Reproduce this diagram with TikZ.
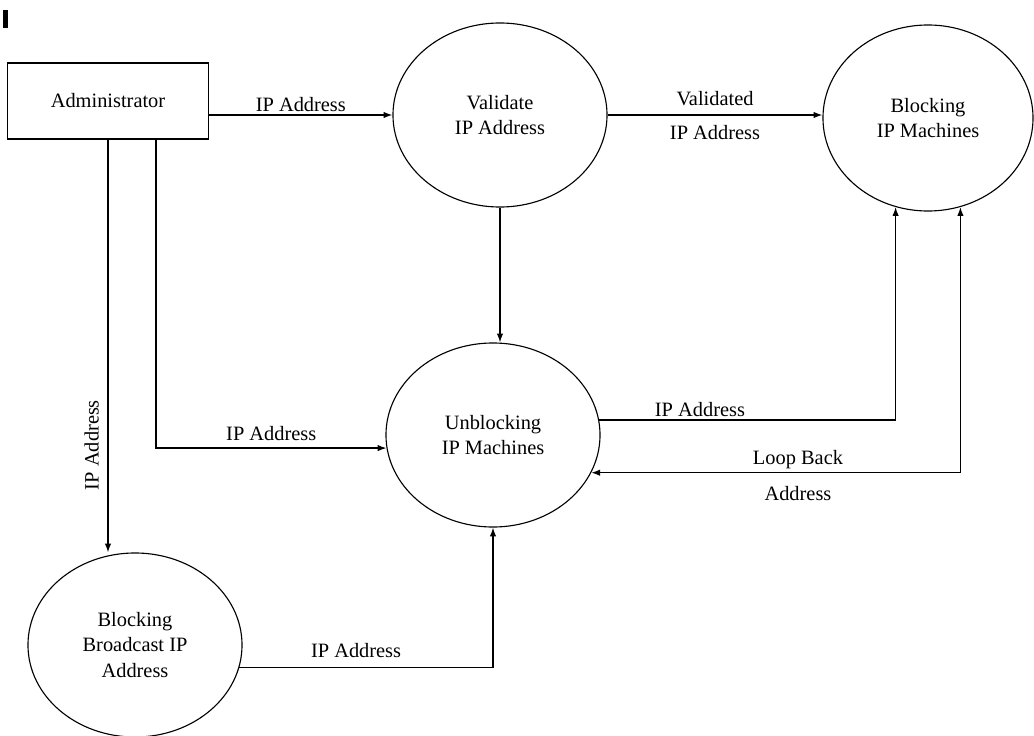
\documentclass[tikz,border=0pt]{standalone}
\usepackage{fontspec}
\setmainfont{Liberation Serif}
\usetikzlibrary{positioning,arrows.meta,shapes.geometric}
\tikzset{
    ent/.style={rectangle,draw,line width=0.9pt,minimum width=5.03cm,minimum height=1.9cm,inner sep=0pt},
    proc/.style={ellipse,draw,line width=0.8pt,minimum width=5.35cm,minimum height=4.6cm,inner sep=0pt,align=center},
    flow/.style={-{Latex[length=2.2mm,width=1.6mm]},line width=0.9pt},
    both/.style={{Latex[length=2.2mm,width=1.6mm]}-{Latex[length=2.2mm,width=1.6mm]},line width=0.9pt},
    lbl/.style={inner sep=2pt},
}

\begin{document}
\begin{tikzpicture}[x=0.025cm,y=-0.025cm,every node/.style={font=\fontsize{14.5}{18}\selectfont}]
\useasboundingbox (0,0) rectangle (1034,736);
\fill (3,10) rectangle (8,28);

\node[ent]  (adm) at (108,101) {Administrator};
\node[proc] (val) at (500,115) {Validate\\IP Address};
\node[proc,minimum width=5.25cm,minimum height=4.65cm] (blk) at (928,118) {Blocking\\IP Machines};
\node[proc] (unb) at (493,435) {Unblocking\\IP Machines};
\node[proc] (bbc) at (135,645) {Blocking\\Broadcast IP\\Address};

\draw[flow] (adm.east |- val.west) -- node[lbl,above] (lAdmVal) {IP Address} (val.west);
\draw[flow] (val.east) -- node[lbl,above,inner sep=6pt] (lValBlk1) {Validated}
    node[lbl,below,inner sep=7pt] (lValBlk2) {IP Address} (val.east -| blk.west);
\draw[flow] (val.south) -- (val.south |- unb.north);
\draw[flow] (adm.south) -- node[lbl,pos=0.74,rotate=90,anchor=south,inner sep=6pt] (lAdmBbc) {IP Address} (adm.south |- bbc.north);
\draw[flow] ([xshift=1.2cm]adm.south) |- node[lbl,pos=0.75,above,inner sep=5pt] (lAdmUnb) {IP Address} (unb.187);
\draw[flow] (unb.8) -| node[lbl,pos=0.17,above] (lUnbBlk) {IP Address} (blk.250);
\draw[both] (blk.290) |- node[lbl,pos=0.72,above] (lLoop1) {Loop Back}
    node[lbl,pos=0.72,below,inner sep=9pt] (lLoop2) {Address} (unb.339);
\draw[flow] (bbc.348) -| node[lbl,pos=0.23,above,inner sep=6pt] (lBbcUnb) {IP Address} (unb.south);
\end{tikzpicture}
\end{document}
